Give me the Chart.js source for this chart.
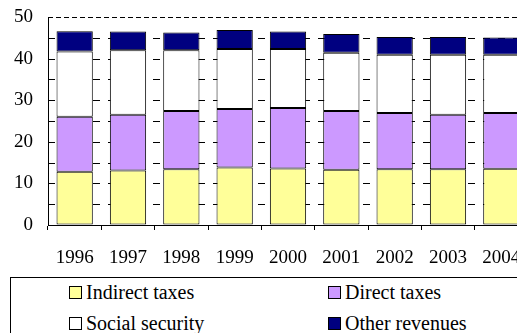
<!DOCTYPE html>
<html lang="en">
<head>
<meta charset="UTF-8">
<title>Revenues</title>
<script src="https://cdn.jsdelivr.net/npm/chart.js"></script>
<style>
  html, body { margin: 0; padding: 0; background: #fff; overflow: hidden; width: 517px; height: 333px; }
  #wrap { position: absolute; left: 0; top: 0; width: 540px; height: 268px; }
  .legend { position: absolute; left: 10px; top: 277px; width: 560px; height: 80px; border: 1px solid #000;
            font-family: 'Liberation Serif', 'Times New Roman', serif; font-size: 20px; color: #000; }
  .item { position: absolute; display: flex; align-items: center; white-space: nowrap; line-height: 24px; }
  .box { width: 11px; height: 11px; border: 1px solid #000; margin-right: 4px; }
</style>
</head>
<body>
<div id="wrap"><canvas id="chart" width="540" height="268"></canvas></div>
<div class="legend" id="legend"></div>
<script>
const years = ['1996', '1997', '1998', '1999', '2000', '2001', '2002', '2003', '2004'];
const indirectTaxes = [12.8, 13.1, 13.4, 13.8, 13.6, 13.3, 13.4, 13.4, 13.5];
const directTaxes = [13.2, 13.4, 14.0, 14.1, 14.5, 14.1, 13.5, 13.1, 13.4];
const socialSecurity = [15.7, 15.5, 14.6, 14.4, 14.2, 14.0, 14.0, 14.4, 14.0];
const otherRevenues = [4.9, 4.5, 4.3, 4.6, 4.2, 4.5, 4.3, 4.3, 4.2];

const seriesNames = ['Indirect taxes', 'Direct taxes', 'Social security', 'Other revenues'];
const seriesColors = ['#FFFF99', '#CC99FF', '#FFFFFF', '#000080'];
const seriesData = [indirectTaxes, directTaxes, socialSecurity, otherRevenues];

const font = { family: "'Liberation Serif', 'Times New Roman', serif", size: 19 };

// dashed horizontal gridlines behind the bars
const dashedGrid = {
    id: 'dashedGrid',
    beforeDatasetsDraw(chart) {
        const { ctx, chartArea, scales } = chart;
        const y = scales.y;
        ctx.save();
        ctx.strokeStyle = '#000';
        ctx.lineWidth = 1;
        y.ticks.forEach(t => {
            if (t.value === 0) return;
            const py = Math.round(y.getPixelForValue(t.value)) + 0.5;
            ctx.setLineDash(t.value === 50 ? [5, 3] : [7, 8]);
            ctx.beginPath();
            ctx.moveTo(chartArea.left, py);
            ctx.lineTo(chartArea.right, py);
            ctx.stroke();
        });
        ctx.restore();
    }
};

new Chart(document.getElementById('chart'), {
    type: 'bar',
    data: {
        labels: years,
        datasets: seriesNames.map((name, i) => ({
            label: name,
            data: seriesData[i],
            backgroundColor: seriesColors[i],
            borderColor: '#000',
            borderWidth: 1,
            borderSkipped: false,
            categoryPercentage: 1,
            barPercentage: 0.68
        }))
    },
    options: {
        responsive: false,
        animation: false,
        layout: { padding: { top: 17, right: 12, left: 0, bottom: 0 } },
        plugins: { legend: { display: false }, tooltip: { enabled: false } },
        scales: {
            x: {
                stacked: true,
                grid: { drawOnChartArea: false, tickLength: 5, tickColor: '#000', offset: true },
                border: { color: '#000', width: 1 },
                ticks: { color: '#000', font: font, padding: 17, maxRotation: 0, autoSkip: false },
                afterFit: s => { s.height = 43; }
            },
            y: {
                stacked: true,
                min: 0,
                max: 50,
                grid: { drawOnChartArea: false, tickLength: 15, tickColor: 'rgba(0,0,0,0)' },
                border: { color: '#000', width: 1 },
                ticks: {
                    stepSize: 5,
                    autoSkip: false,
                    color: '#000',
                    font: font,
                    padding: 0,
                    callback: v => v % 10 === 0 ? v : ''
                },
                afterFit: s => { s.width = 48; }
            }
        }
    },
    plugins: [dashedGrid]
});

// legend, two columns
const legend = document.getElementById('legend');
const spots = [[58, 2], [317, 2], [58, 33], [317, 33]];
seriesNames.forEach((name, i) => {
    const item = document.createElement('div');
    item.className = 'item';
    item.style.left = spots[i][0] + 'px';
    item.style.top = spots[i][1] + 'px';
    const box = document.createElement('span');
    box.className = 'box';
    box.style.background = seriesColors[i];
    const txt = document.createElement('span');
    txt.textContent = name;
    item.appendChild(box);
    item.appendChild(txt);
    legend.appendChild(item);
});
</script>
</body>
</html>
